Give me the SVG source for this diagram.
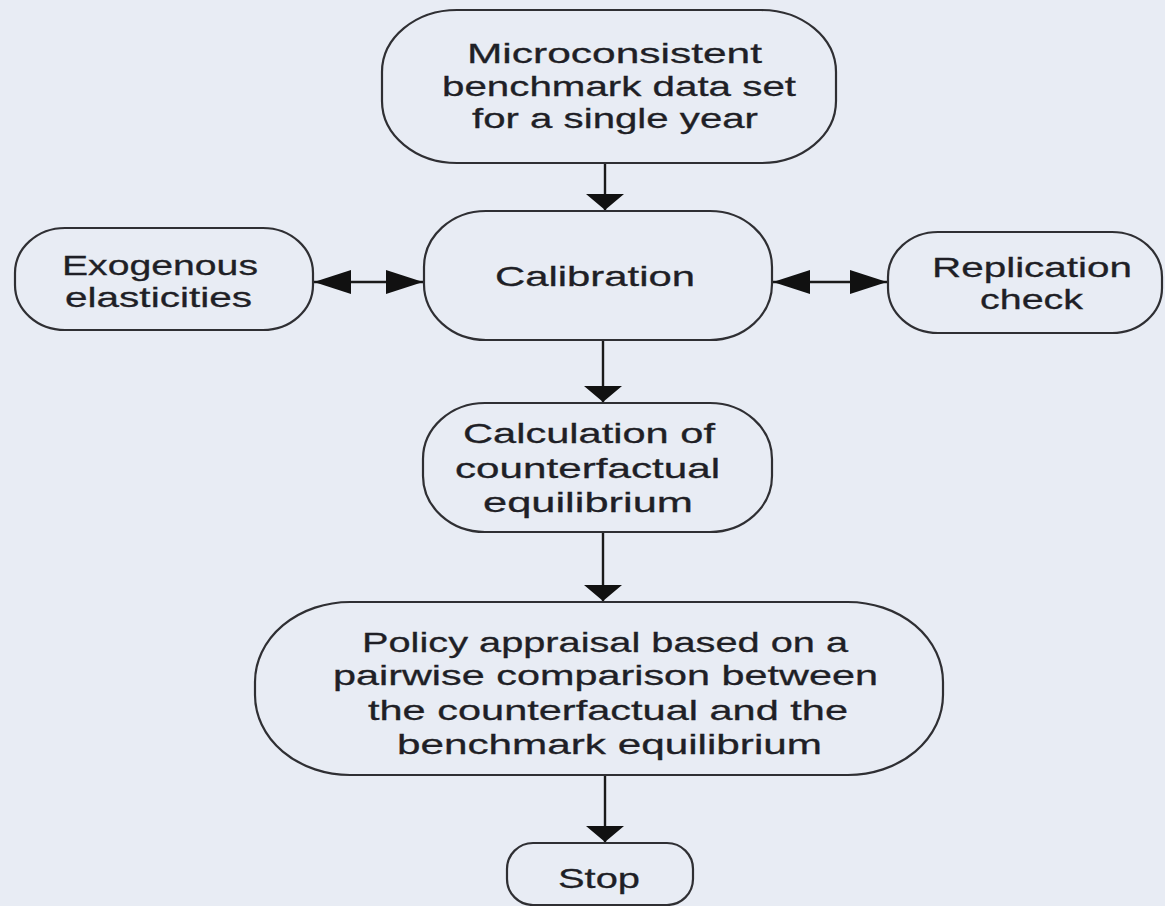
<svg xmlns="http://www.w3.org/2000/svg" width="1165" height="906" viewBox="0 0 1165 906">
<style>
.node{fill:#e8ecf4;stroke:#2f2f33;stroke-width:2.2}
.lbl{font-family:"Liberation Sans",Arial,sans-serif;font-size:28.5px;fill:#1f1f26;stroke:#1f1f26;stroke-width:0.3}
.edge{stroke:#1a1a1a;stroke-width:2.4;fill:none}
</style>
<defs>
<marker id="down" markerUnits="userSpaceOnUse" markerWidth="16" markerHeight="38" refX="16" refY="19" orient="auto" viewBox="0 0 16 38">
<path d="M0,0 L16,19 L0,38 Z" fill="#111"/>
</marker>
<marker id="side" markerUnits="userSpaceOnUse" markerWidth="37" markerHeight="24" refX="37" refY="12" orient="auto-start-reverse" viewBox="0 0 37 24">
<path d="M0,0 L37,12 L0,24 Z" fill="#111"/>
</marker>
</defs>
<rect width="1165" height="906" fill="#e8ecf4"/>
<g id="connectors">
<line class="edge" x1="605" y1="163" x2="605" y2="210" marker-end="url(#down)"/>
<line class="edge" x1="603" y1="340" x2="603" y2="402" marker-end="url(#down)"/>
<line class="edge" x1="603" y1="532" x2="603" y2="601" marker-end="url(#down)"/>
<line class="edge" x1="605" y1="775" x2="605" y2="842" marker-end="url(#down)"/>
<line class="edge" x1="314" y1="282" x2="423" y2="282" marker-start="url(#side)" marker-end="url(#side)"/>
<line class="edge" x1="773" y1="282" x2="887" y2="282" marker-start="url(#side)" marker-end="url(#side)"/>
</g>
<g id="n-benchmark">
<rect class="node" x="382" y="10" width="454" height="153" rx="75" ry="62"/>
<text class="lbl" x="467" y="63" textLength="295" lengthAdjust="spacingAndGlyphs">Microconsistent</text>
<text class="lbl" x="442" y="96" textLength="354" lengthAdjust="spacingAndGlyphs">benchmark data set</text>
<text class="lbl" x="472" y="128" textLength="286" lengthAdjust="spacingAndGlyphs">for a single year</text>
</g>
<g id="n-calibration">
<rect class="node" x="424" y="211" width="348" height="129" rx="62" ry="56"/>
<text class="lbl" x="495" y="286" textLength="200" lengthAdjust="spacingAndGlyphs">Calibration</text>
</g>
<g id="n-exogenous">
<rect class="node" x="15" y="228" width="298" height="102" rx="50" ry="45"/>
<text class="lbl" x="62" y="275" textLength="196" lengthAdjust="spacingAndGlyphs">Exogenous</text>
<text class="lbl" x="65" y="307" textLength="187" lengthAdjust="spacingAndGlyphs">elasticities</text>
</g>
<g id="n-replication">
<rect class="node" x="888" y="232" width="274" height="101" rx="50" ry="45"/>
<text class="lbl" x="932" y="277" textLength="200" lengthAdjust="spacingAndGlyphs">Replication</text>
<text class="lbl" x="980" y="309" textLength="103" lengthAdjust="spacingAndGlyphs">check</text>
</g>
<g id="n-calculation">
<rect class="node" x="423" y="403" width="349" height="129" rx="62" ry="56"/>
<text class="lbl" x="463" y="443" textLength="252" lengthAdjust="spacingAndGlyphs">Calculation of</text>
<text class="lbl" x="455" y="478" textLength="265" lengthAdjust="spacingAndGlyphs">counterfactual</text>
<text class="lbl" x="483" y="512" textLength="210" lengthAdjust="spacingAndGlyphs">equilibrium</text>
</g>
<g id="n-policy">
<rect class="node" x="255" y="602" width="688" height="173" rx="95" ry="80"/>
<text class="lbl" x="362" y="652" textLength="486" lengthAdjust="spacingAndGlyphs">Policy appraisal based on a</text>
<text class="lbl" x="333" y="685" textLength="545" lengthAdjust="spacingAndGlyphs">pairwise comparison between</text>
<text class="lbl" x="368" y="720" textLength="480" lengthAdjust="spacingAndGlyphs">the counterfactual and the</text>
<text class="lbl" x="397" y="754" textLength="425" lengthAdjust="spacingAndGlyphs">benchmark equilibrium</text>
</g>
<g id="n-stop">
<rect class="node" x="507" y="843" width="186" height="62" rx="26" ry="26"/>
<text class="lbl" x="558" y="888" textLength="82" lengthAdjust="spacingAndGlyphs">Stop</text>
</g>
</svg>
